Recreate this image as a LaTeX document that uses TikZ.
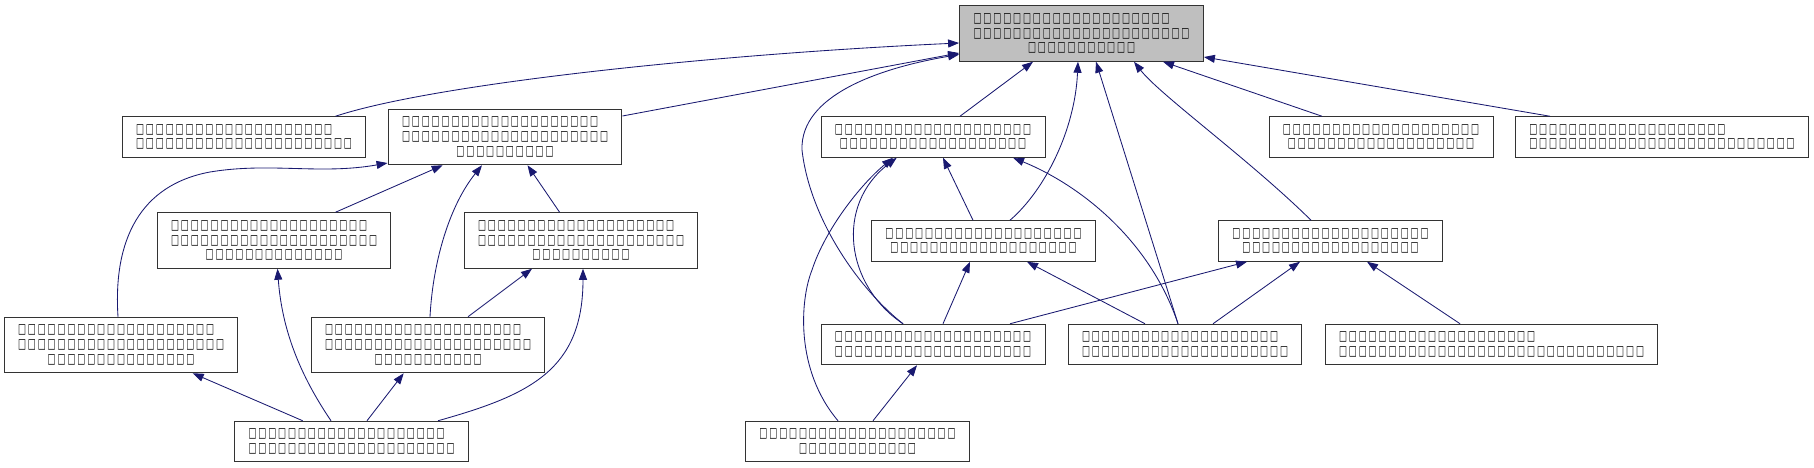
\documentclass[tikz,border=0pt]{standalone}
\usepackage{fontspec}
\newfontfamily\tofufont{DejaVu Sans}
\usetikzlibrary{arrows.meta}
\definecolor{edgeblue}{HTML}{191970}
\newdimen\tofuw \tofuw=9.9pt
\newcommand{\tofu}[1]{\foreach \tn in {1,...,#1}{\makebox[\tofuw]{\resizebox*{8pt}{10.5pt}{□}}}}
\newcommand{\padd}[1]{\hphantom{\tofu{#1}}}
\tikzset{
  cls/.style={draw=black!80,line width=1pt,fill=white,align=center,inner xsep=13pt,inner ysep=0pt,
    font=\tofufont\bfseries\fontsize{11}{14.7}\selectfont},
  two/.style={cls,minimum height=40.5pt},
  three/.style={cls,minimum height=55.5pt},
  root/.style={fill=black!25},
  dep/.style={edgeblue,line width=0.85pt,-{Triangle[length=11pt,width=8pt]}},
}
\begin{document}
\begin{tikzpicture}[x=1pt,y=-1pt]
\useasboundingbox (0,0) rectangle (1814,468);
% the header and the files that include it directly
\node[three,root] (root) at (1081.5,33.5) {\tofu{20}\padd{2}\\\tofu{22}\\\tofu{11}};
\node[two] (ra) at (244,137) {\tofu{20}\padd{2}\\\tofu{22}};
\node[three] (rb) at (505,137) {\tofu{20}\padd{1}\\\tofu{21}\\\tofu{10}};
\node[two] (rc) at (933,137) {\tofu{20}\\\tofu{19}};
\node[two] (rd) at (1381,137) {\tofu{20}\\\tofu{19}};
\node[two] (re) at (1662,137) {\tofu{20}\padd{7}\\\tofu{27}};
% second level
\node[three] (sa) at (274,240.5) {\tofu{20}\padd{1}\\\tofu{21}\\\tofu{14}};
\node[three] (sb) at (581,240.5) {\tofu{20}\padd{1}\\\tofu{21}\\\tofu{10}};
\node[two] (sc) at (983.5,241) {\tofu{20}\\\tofu{19}};
\node[two] (sd) at (1330.5,241) {\tofu{20}\\\tofu{18}};
% third level
\node[three] (ta) at (121,345) {\tofu{20}\padd{1}\\\tofu{21}\\\tofu{15}};
\node[three] (tb) at (428,345) {\tofu{20}\padd{1}\\\tofu{21}\\\tofu{11}};
\node[two] (tc) at (933,344.5) {\tofu{20}\\\tofu{20}};
\node[two] (td) at (1185,344.5) {\tofu{20}\padd{1}\\\tofu{21}};
\node[two] (te) at (1491.5,344.5) {\tofu{20}\padd{11}\\\tofu{31}};
% bottom level
\node[two] (ua) at (351.5,441.5) {\tofu{20}\padd{1}\\\tofu{21}};
\node[two] (ub) at (857.5,441.5) {\tofu{20}\\\tofu{12}};
% straight includes
\foreach \src/\ds/\dst/\dd in {rc/27/root/-48.5,td/-7/root/14.5,rd/-59/root/81.5,
    sa/61.5/rb/-62.3,sb/-21.4/rb/22.5,ua/-48.8/ta/71.7,ua/15.5/tb/-24.3,tb/40/sb/-49,
    sc/-10.5/rc/10,tc/10/sc/-13.5,tc/77/sd/-83.5,td/-40/sc/43.5,td/28/sd/-30.5,
    te/-31.5/sd/36.5,ub/15.5/tc/-16}
  \draw[dep] ([xshift=\ds pt]\src.north) -- ([xshift=\dd pt]\dst.south);
\draw[dep] ([yshift=21pt]rb.east) -- ([yshift=-19.5pt]root.west);
\draw[dep] ([xshift=-112pt]re.north) -- ([yshift=-23.5pt]root.east);
% curved ones
\draw[dep] ([xshift=91.5pt]ra.north) .. controls (430,85) and (700,55) .. ([yshift=-9.5pt]root.west);
\draw[dep] ([xshift=-30pt]tc.north) .. controls (860,290) and (810,220) .. (802,150)
  .. controls (800,95) and (880,68) .. ([yshift=-21pt]root.west);
\draw[dep] ([xshift=-30pt]tc.north) .. controls (845,285) and (835,205) .. ([xshift=-36.3pt]rc.south);
\draw[dep] ([xshift=-7pt]td.north) .. controls (1150,240) and (1080,185) .. ([xshift=80pt]rc.south);
\draw[dep] ([xshift=-19.5pt]ub.north) .. controls (795,370) and (800,300) .. (812,270)
  .. controls (825,230) and (860,185) .. ([xshift=-40pt]rc.south);
\draw[dep] ([xshift=26.5pt]sc.north) .. controls (1045,190) and (1075,130) .. ([xshift=-3.5pt]root.south);
\draw[dep] ([xshift=-19.5pt]sd.north) .. controls (1250,160) and (1160,95) .. ([xshift=52.5pt]root.south);
\draw[dep] ([xshift=-3pt]ta.north) .. controls (113,240) and (140,185) .. (210,172)
  .. controls (270,162) and (320,175) .. ([yshift=-26pt]rb.west);
\draw[dep] ([xshift=2pt]tb.north) .. controls (433,260) and (450,205) .. ([xshift=-23pt]rb.south);
\draw[dep] ([xshift=-20.5pt]ua.north) .. controls (300,375) and (282,330) .. ([xshift=3.5pt]sa.south);
\draw[dep] ([xshift=86.5pt]ua.north) .. controls (530,395) and (583,370) .. ([xshift=2pt]sb.south);
\end{tikzpicture}
\end{document}
